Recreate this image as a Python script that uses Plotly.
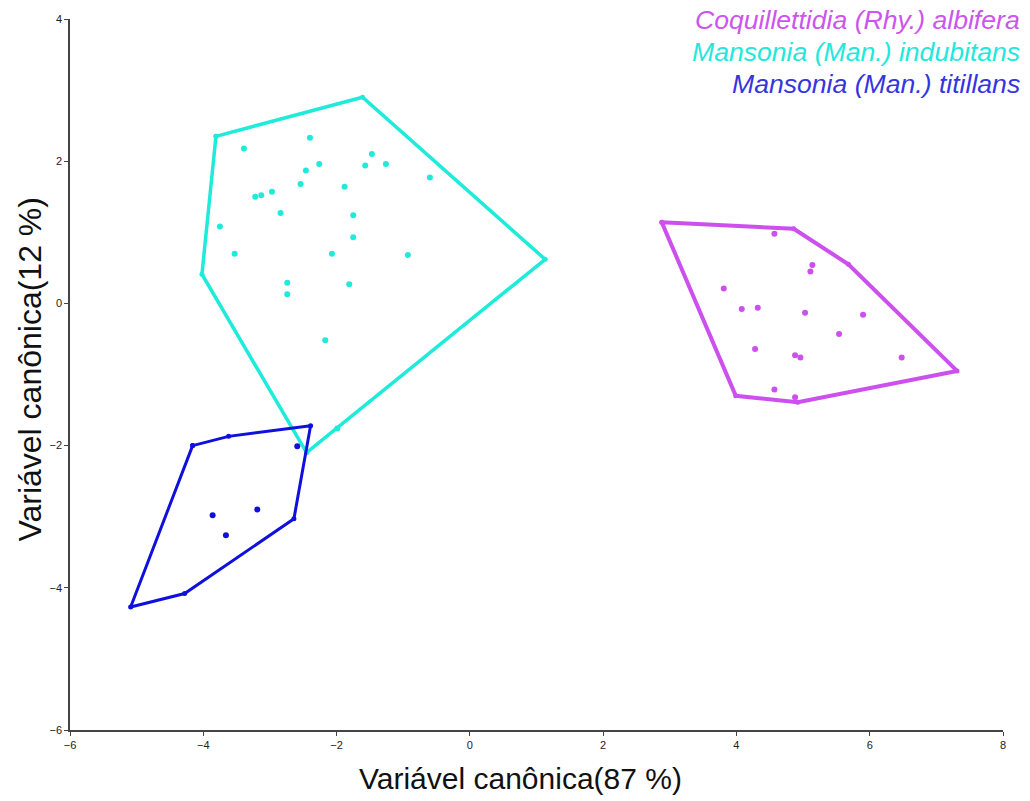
import plotly.graph_objects as go

# --- Data ---
alb_hull_x = [2.88, 4.86, 5.68, 7.31, 4.92, 3.99, 2.88]
alb_hull_y = [1.14, 1.05, 0.55, -0.95, -1.39, -1.30, 1.14]
alb_x = [4.57, 5.14, 5.11, 3.81, 4.08, 4.32, 5.03, 5.90, 5.54, 4.28, 4.88, 4.96, 6.48, 4.57, 4.88]
alb_y = [0.98, 0.54, 0.45, 0.21, -0.08, -0.06, -0.13, -0.16, -0.43, -0.64, -0.73, -0.76, -0.76, -1.21, -1.32]

ind_hull_x = [-3.81, -1.61, 1.13, -2.45, -4.02, -3.81]
ind_hull_y = [2.35, 2.90, 0.62, -2.10, 0.41, 2.35]
ind_x = [-3.39, -2.40, -1.47, -2.26, -2.46, -1.57, -1.26, -0.60, -2.54, -1.88, -3.22, -3.13,
         -2.97, -2.84, -1.75, -3.75, -1.75, -3.53, -2.07, -0.93, -2.74, -1.81, -2.74, -2.17, -1.99]
ind_y = [2.18, 2.33, 2.10, 1.96, 1.87, 1.94, 1.96, 1.77, 1.68, 1.64, 1.50, 1.52,
         1.57, 1.27, 1.24, 1.08, 0.93, 0.70, 0.70, 0.68, 0.29, 0.27, 0.13, -0.52, -1.76]

tit_hull_x = [-4.16, -3.62, -2.39, -2.64, -4.28, -5.09, -4.16]
tit_hull_y = [-2.00, -1.87, -1.72, -3.03, -4.08, -4.27, -2.00]
tit_x = [-2.59, -3.86, -3.19, -3.66]
tit_y = [-2.01, -2.98, -2.90, -3.26]

species = ["Coquillettidia (Rhy.) albifera", "Mansonia (Man.) indubitans", "Mansonia (Man.) titillans"]
colors = ["#CC4FEE", "#1EEBDA", "#1010DC"]
legend_colors = ["#CC55EE", "#22E8DC", "#3535E0"]
x_ticks = [-6, -4, -2, 0, 2, 4, 6, 8]
y_ticks = [-6, -4, -2, 0, 2, 4]
x_title = "Variável canônica(87 %)"
y_title = "Variável canônica(12 %)"

groups = [
    (alb_hull_x, alb_hull_y, alb_x, alb_y, 4),
    (ind_hull_x, ind_hull_y, ind_x, ind_y, 3.5),
    (tit_hull_x, tit_hull_y, tit_x, tit_y, 3),
]

fig = go.Figure()
for (hx, hy, px, py, lw), name, c in zip(groups, species, colors):
    fig.add_trace(go.Scatter(x=hx, y=hy, mode="lines+markers", name=name,
                             line=dict(color=c, width=lw), marker=dict(color=c, size=5),
                             showlegend=False))
    fig.add_trace(go.Scatter(x=px, y=py, mode="markers", name=name,
                             marker=dict(color=c, size=6), showlegend=False))

for i, (name, c) in enumerate(zip(species, legend_colors)):
    fig.add_annotation(text=name, xref="paper", yref="paper", x=1.0, y=1.0,
                       xanchor="right", yanchor="middle", showarrow=False,
                       xshift=19, yshift=-1 - 32 * i,
                       font=dict(family="Liberation Sans, Arial", size=26.6, color=c, style="italic"))

fig.add_annotation(text=x_title, xref="paper", yref="paper", x=0.5, y=0.0,
                   xanchor="center", yanchor="middle", showarrow=False,
                   xshift=-16, yshift=-48,
                   font=dict(family="Liberation Sans, Arial", size=30, color="#111111"))
fig.add_annotation(text=y_title, xref="paper", yref="paper", x=0.0, y=0.5,
                   xanchor="center", yanchor="middle", showarrow=False, textangle=-90,
                   xshift=-41, yshift=5,
                   font=dict(family="Liberation Sans, Arial", size=32, color="#111111"))

axis_common = dict(showline=True, linecolor="#444444", linewidth=1.5, ticks="outside",
                   ticklen=4, tickcolor="#444444", showgrid=False, zeroline=False,
                   tickfont=dict(family="Liberation Sans, Arial", size=11, color="#222222"))

fig.update_layout(
    width=1030, height=801,
    margin=dict(l=70, r=27, t=19, b=71),
    plot_bgcolor="white", paper_bgcolor="white",
    xaxis=dict(range=[-6, 8], tickvals=x_ticks, **axis_common),
    yaxis=dict(range=[-6, 4], tickvals=y_ticks, **axis_common),
)

fig.write_html("out.html", config={"displayModeBar": False},
               post_script="document.body.style.margin='0';document.body.style.overflow='hidden';")
